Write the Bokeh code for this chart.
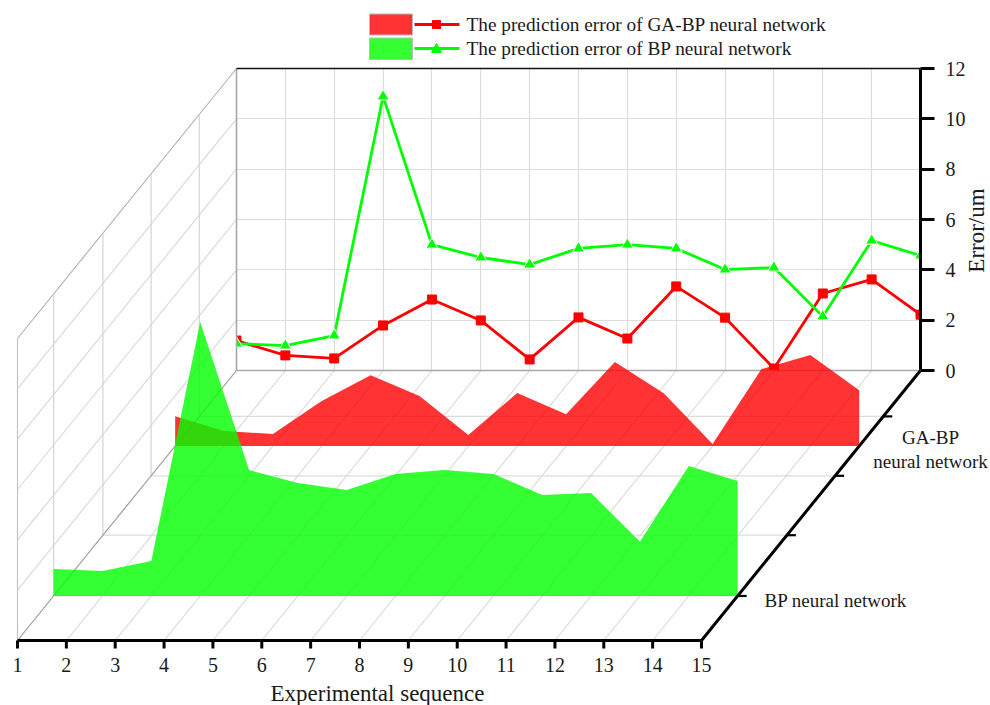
from bokeh.plotting import figure
from bokeh.embed import file_html
from bokeh.resources import INLINE
from bokeh.core.properties import value
from bokeh.models import Grid, FixedTicker
import math

sequence = list(range(1, 16))
ga_bp_error = [1.19, 0.60, 0.48, 1.79, 2.82, 1.99, 0.44, 2.11, 1.27, 3.34, 2.10, 0.08, 3.06, 3.62, 2.22]
bp_error = [1.07, 0.99, 1.39, 10.89, 5.00, 4.49, 4.21, 4.85, 5.00, 4.85, 4.01, 4.09, 2.15, 5.16, 4.57]
error_ticks = [0, 2, 4, 6, 8, 10, 12]
depth_ticks = [0.17, 0.39, 0.61, 0.835]
ga_depth = 0.28
bp_depth = 0.835
legend_labels = ["The prediction error of GA-BP neural network", "The prediction error of BP neural network"]

FONT = value("Liberation Serif")
RED, GREEN = "#ff0000", "#00ff00"
FILL_ALPHA = 0.8
W, H = 684, 302
L_PX, B_PX = 236, 370
DX = -219 * 14 / W
DY = -270 * 12 / H


def px(x):
    return 1 + (x - L_PX) * 14 / W


def py(y):
    return (B_PX - y) * 12 / H


def proj_x(x, d):
    return x + DX * d


def proj_y(v, d):
    return v + DY * d


p = figure(frame_width=W, frame_height=H, x_range=(1, 15), y_range=(0, 12),
           min_border_left=236, min_border_right=70, min_border_top=68, min_border_bottom=335,
           x_axis_location=None, y_axis_location="right", toolbar_location=None,
           output_backend="svg", background_fill_color="white", border_fill_color="white")
p.outline_line_color = None

# back wall
p.ygrid.ticker = FixedTicker(ticks=error_ticks)
p.ygrid.grid_line_color = "#dddddd"
p.ygrid.grid_line_width = 1.2
p.xgrid.visible = False
xg = Grid(dimension=0, ticker=FixedTicker(ticks=sequence), grid_line_color="#dddddd", grid_line_width=1.2)
p.add_layout(xg)

ax = p.yaxis[0]
ax.ticker = FixedTicker(ticks=error_ticks)
ax.axis_line_width = 3
ax.axis_line_color = "black"
ax.major_tick_line_width = 3
ax.major_tick_line_color = "black"
ax.major_tick_out = 14
ax.major_tick_in = 0
ax.minor_tick_line_color = None
ax.major_label_text_font = "Liberation Serif"
ax.major_label_text_font_size = "20px"
ax.major_label_text_color = "#1a1a1a"
ax.major_label_standoff = 11

OV = dict(level="overlay")

# left wall and floor
for v in error_ticks:
    p.line([proj_x(1, 0), proj_x(1, 1)], [proj_y(v, 0), proj_y(v, 1)],
           line_color="#b0b0b0" if v == 12 else "#d8d8d8", line_width=1.1, **OV)
for d in depth_ticks:
    p.line([proj_x(1, d), proj_x(1, d)], [proj_y(0, d), proj_y(12, d)], line_color="#d4d4d4", line_width=1.2, **OV)
    p.line([proj_x(1, d), proj_x(15, d)], [proj_y(0, d), proj_y(0, d)], line_color="#dddddd", line_width=1.2, **OV)
for x in sequence:
    p.line([proj_x(x, 0), proj_x(x, 1)], [0, proj_y(0, 1)],
           line_color="#a0a0a0" if x == 1 else "#d8d8d8", line_width=1.1, **OV)
p.line([proj_x(1, 1), proj_x(1, 1)], [proj_y(0, 1), proj_y(12, 1)], line_color="#c4c4c4", line_width=1.2, **OV)

# back wall frame
p.line([1, 1], [0, 12], line_color="#a8a8a8", line_width=1.6, **OV)
p.line([1, 15], [0, 0], line_color="#a8a8a8", line_width=1.6, **OV)
p.line([1, 15], [12, 12], line_color="#111111", line_width=1.6, **OV)

# lines on the back wall (clipped by the frame)
p.line(sequence, ga_bp_error, line_color=RED, line_width=2.8)
p.scatter(sequence, ga_bp_error, marker="square", size=9, fill_color=RED, line_color=RED)
p.line(sequence, bp_error, line_color=GREEN, line_width=2.8)
p.scatter(sequence, bp_error, marker="triangle", size=12, fill_color=GREEN, line_color="white", line_width=1)


# walls of areas
def area(values, d, color):
    xs = [proj_x(x, d) for x in sequence]
    ys = [proj_y(v, d) for v in values]
    p.patch(xs + [xs[-1], xs[0]], ys + [proj_y(0, d), proj_y(0, d)],
            fill_color=color, fill_alpha=FILL_ALPHA, line_color=None, **OV)


area(ga_bp_error, ga_depth, RED)
area(bp_error, bp_depth, GREEN)

# front axes
p.line([proj_x(1, 1), proj_x(15, 1)], [proj_y(0, 1), proj_y(0, 1)], line_color="black", line_width=3, **OV)
p.line([proj_x(15, 0), proj_x(15, 1)], [0, proj_y(0, 1)], line_color="black", line_width=3, **OV)
for x in sequence:
    xx = proj_x(x, 1)
    p.line([xx, xx], [py(640), py(648)], line_color="black", line_width=3, **OV)
for d in depth_ticks:
    xx = proj_x(15, d)
    p.line([xx, xx + px(245) - px(236)], [proj_y(0, d), proj_y(0, d)], line_color="black", line_width=2.2, **OV)

TXT = dict(text_font=FONT, text_color="#1a1a1a", **OV)
p.text([proj_x(x, 1) for x in sequence], [py(664)] * 15, text=[str(x) for x in sequence],
       text_font_size="20px", text_align="center", text_baseline="middle", **TXT)
p.text([px(377)], [py(693)], text=["Experimental sequence"], text_font_size="23px",
       text_align="center", text_baseline="middle", **TXT)
p.text([px(976)], [py(230)], text=["Error/um"], angle=math.pi / 2, text_font_size="23px",
       text_align="center", text_baseline="middle", **TXT)
p.text([px(930), px(930)], [py(437), py(461)], text=["GA-BP", "neural network"], text_font_size="19px",
       text_align="center", text_baseline="middle", **TXT)
p.text([px(764)], [py(600)], text=["BP neural network"], text_font_size="19px",
       text_align="left", text_baseline="middle", **TXT)

# legend
for i, (lab, col) in enumerate(zip(legend_labels, [RED, GREEN])):
    top, bot = (13.5, 34.5) if i == 0 else (37.5, 59)
    mid = (24, 48)[i]
    p.quad(left=[px(369)], right=[px(412)], top=[py(top)], bottom=[py(bot)], fill_color=col,
           fill_alpha=FILL_ALPHA, line_color="#bbbbbb", line_width=1, **OV)
    p.line([px(414), px(459)], [py(mid), py(mid)], line_color=col, line_width=2.8, **OV)
    if i == 0:
        p.patch([px(432), px(440), px(440), px(432)], [py(mid - 4), py(mid - 4), py(mid + 4), py(mid + 4)],
                fill_color=col, line_color=col, **OV)
    else:
        p.patch([px(431), px(441), px(436)], [py(mid + 4), py(mid + 4), py(mid - 5)],
                fill_color=col, line_color=col, **OV)
    p.text([px(466)], [py(mid)], text=[lab], text_font_size="19.3px", text_align="left", text_baseline="middle", **TXT)

open("out.html", "w").write(file_html(p, INLINE))
